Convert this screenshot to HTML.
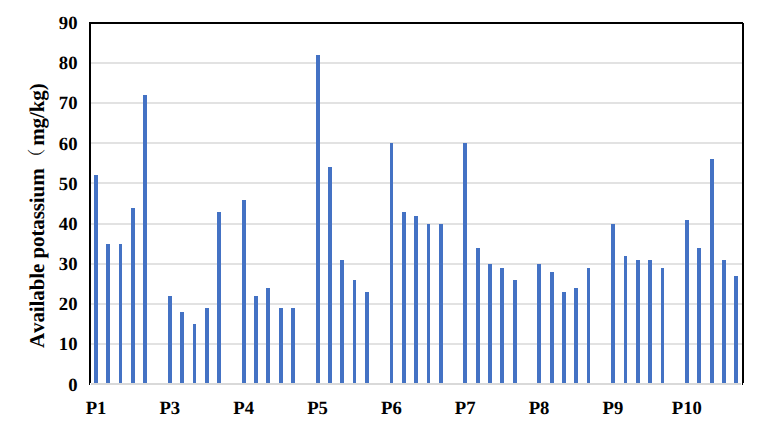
<!DOCTYPE html>
<html><head><meta charset="utf-8"><style>
html,body{margin:0;padding:0;background:#fff;}
body{width:766px;height:435px;position:relative;overflow:hidden;font-family:"Liberation Serif","Noto Serif CJK SC",serif;font-weight:bold;color:#000;text-rendering:geometricPrecision;}
.g{position:absolute;left:91px;width:651px;height:2px;background:#e2e2e2;}
.b{position:absolute;background:#4472c4;}
.ax{position:absolute;left:91px;width:650px;top:383px;height:2px;background:#d9d9d9;}
.k{position:absolute;top:383px;width:1px;height:2px;background:#000;}
.fr{position:absolute;left:89px;top:22px;width:651px;height:359px;border:2px solid #000;border-bottom:none;}
.t{position:absolute;left:39.5px;width:38px;text-align:right;font-size:18.67px;line-height:20px;}
.c{position:absolute;top:399px;width:60px;text-align:center;font-size:18.67px;line-height:20px;}
.yt{position:absolute;left:25px;top:348px;font-size:21px;line-height:24px;white-space:nowrap;font-kerning:none;letter-spacing:-0.1px;transform-origin:0 0;transform:rotate(-90deg);}
.yt span{font-weight:normal;font-family:"Noto Serif CJK SC",serif;line-height:0;font-size:18px;padding:0 2.7px 0 2.0px;position:relative;top:-1px;}
</style></head><body>
<div class="g" style="top:343px"></div>
<div class="g" style="top:303px"></div>
<div class="g" style="top:263px"></div>
<div class="g" style="top:223px"></div>
<div class="g" style="top:182px"></div>
<div class="g" style="top:142px"></div>
<div class="g" style="top:102px"></div>
<div class="g" style="top:62px"></div>
<div class="b" style="left:94px;top:175px;width:4px;height:208px"></div>
<div class="b" style="left:106px;top:244px;width:4px;height:139px"></div>
<div class="b" style="left:119px;top:244px;width:3px;height:139px"></div>
<div class="b" style="left:131px;top:208px;width:4px;height:175px"></div>
<div class="b" style="left:143px;top:95px;width:4px;height:288px"></div>
<div class="b" style="left:168px;top:296px;width:4px;height:87px"></div>
<div class="b" style="left:180px;top:312px;width:4px;height:71px"></div>
<div class="b" style="left:193px;top:324px;width:3px;height:59px"></div>
<div class="b" style="left:205px;top:308px;width:4px;height:75px"></div>
<div class="b" style="left:217px;top:212px;width:4px;height:171px"></div>
<div class="b" style="left:242px;top:200px;width:4px;height:183px"></div>
<div class="b" style="left:254px;top:296px;width:4px;height:87px"></div>
<div class="b" style="left:266px;top:288px;width:4px;height:95px"></div>
<div class="b" style="left:279px;top:308px;width:4px;height:75px"></div>
<div class="b" style="left:291px;top:308px;width:4px;height:75px"></div>
<div class="b" style="left:316px;top:55px;width:4px;height:328px"></div>
<div class="b" style="left:328px;top:167px;width:4px;height:216px"></div>
<div class="b" style="left:340px;top:260px;width:4px;height:123px"></div>
<div class="b" style="left:353px;top:280px;width:3px;height:103px"></div>
<div class="b" style="left:365px;top:292px;width:4px;height:91px"></div>
<div class="b" style="left:390px;top:143px;width:3px;height:240px"></div>
<div class="b" style="left:402px;top:212px;width:4px;height:171px"></div>
<div class="b" style="left:414px;top:216px;width:4px;height:167px"></div>
<div class="b" style="left:427px;top:224px;width:3px;height:159px"></div>
<div class="b" style="left:439px;top:224px;width:4px;height:159px"></div>
<div class="b" style="left:463px;top:143px;width:4px;height:240px"></div>
<div class="b" style="left:476px;top:248px;width:4px;height:135px"></div>
<div class="b" style="left:488px;top:264px;width:4px;height:119px"></div>
<div class="b" style="left:500px;top:268px;width:4px;height:115px"></div>
<div class="b" style="left:513px;top:280px;width:4px;height:103px"></div>
<div class="b" style="left:537px;top:264px;width:4px;height:119px"></div>
<div class="b" style="left:550px;top:272px;width:4px;height:111px"></div>
<div class="b" style="left:562px;top:292px;width:4px;height:91px"></div>
<div class="b" style="left:574px;top:288px;width:4px;height:95px"></div>
<div class="b" style="left:587px;top:268px;width:3px;height:115px"></div>
<div class="b" style="left:611px;top:224px;width:4px;height:159px"></div>
<div class="b" style="left:624px;top:256px;width:3px;height:127px"></div>
<div class="b" style="left:636px;top:260px;width:4px;height:123px"></div>
<div class="b" style="left:648px;top:260px;width:4px;height:123px"></div>
<div class="b" style="left:661px;top:268px;width:3px;height:115px"></div>
<div class="b" style="left:685px;top:220px;width:4px;height:163px"></div>
<div class="b" style="left:697px;top:248px;width:4px;height:135px"></div>
<div class="b" style="left:710px;top:159px;width:4px;height:224px"></div>
<div class="b" style="left:722px;top:260px;width:4px;height:123px"></div>
<div class="b" style="left:734px;top:276px;width:4px;height:107px"></div>
<div class="ax"></div>
<div class="fr"></div>
<div class="k" style="left:89px"></div><div class="k" style="left:742px"></div><div style="position:absolute;left:743px;top:22px;width:1px;height:1px;background:#fff"></div>
<div class="t" style="top:376px">0</div>
<div class="t" style="top:335px">10</div>
<div class="t" style="top:295px">20</div>
<div class="t" style="top:255px">30</div>
<div class="t" style="top:215px">40</div>
<div class="t" style="top:175px">50</div>
<div class="t" style="top:135px">60</div>
<div class="t" style="top:94px">70</div>
<div class="t" style="top:54px">80</div>
<div class="t" style="top:14px">90</div>
<div class="c" style="left:66.0px">P1</div>
<div class="c" style="left:139.8px">P3</div>
<div class="c" style="left:213.7px">P4</div>
<div class="c" style="left:287.5px">P5</div>
<div class="c" style="left:361.4px">P6</div>
<div class="c" style="left:435.2px">P7</div>
<div class="c" style="left:509.1px">P8</div>
<div class="c" style="left:582.9px">P9</div>
<div class="c" style="left:656.8px">P10</div>
<div class="yt">Available potassium<span>（</span>mg/kg)</div>
</body></html>
